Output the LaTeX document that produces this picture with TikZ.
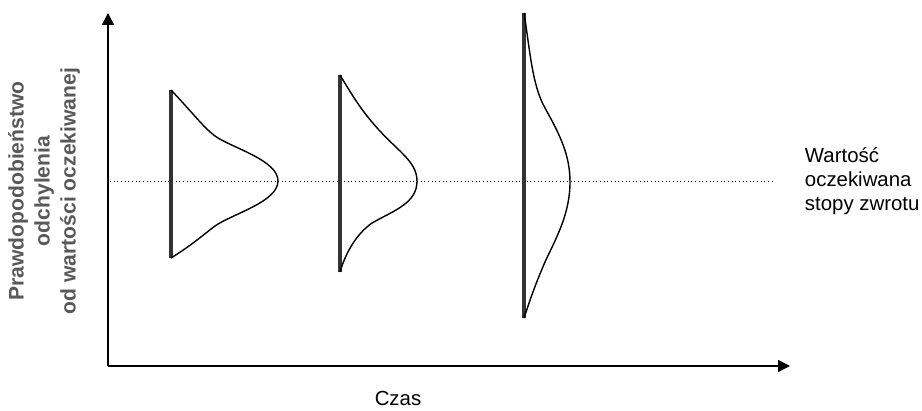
\documentclass[tikz,border=0pt]{standalone}
\usepackage{fontspec}
\setmainfont{Liberation Sans}
\usetikzlibrary{arrows,arrows.meta,calc}

\begin{document}
\begin{tikzpicture}[x=0.025cm,y=-0.025cm,
  axis/.style={line width=1.1pt,-{Triangle[length=8.5pt,width=8.5pt]}},
  bar/.style={line width=2.8pt,color=black!80},
  bell/.style={line width=1pt},
  mean/.style={line width=0.6pt,dotted},
  lab/.style={font=\fontsize{14.5}{16.8}\selectfont,align=left}]
\useasboundingbox (0,0) rectangle (922,410);
\coordinate[] (O) at (108,366);
\coordinate[] (Y) at (108,13);
\coordinate[] (X) at (790,366);
\coordinate[] (M0) at (110,181);
\coordinate[] (M1) at (772,181);
\coordinate[] (A1) at (171,90);
\coordinate[] (B1) at (215,136);
\coordinate[] (C1) at (278,181);
\coordinate[] (D1) at (215,226);
\coordinate[] (E1) at (171,258);
\coordinate[] (A2) at (340,75);
\coordinate[] (B2) at (372,122);
\coordinate[] (C2) at (417,181);
\coordinate[] (D2) at (372,223);
\coordinate[] (E2) at (340,272);
\coordinate[] (A3) at (524,13);
\coordinate[] (B3) at (545,108);
\coordinate[] (C3) at (570,182);
\coordinate[] (D3) at (545,262);
\coordinate[] (E3) at (524,318);

\draw [mean] (M0) -- (M1);
\draw [axis] (O) -- (Y);
\draw [axis] (O) -- (X);

\draw [bar] (A1) -- (E1);
\draw [bar] (A2) -- (E2);
\draw [bar] (A3) -- (E3);

\draw [bell] (A1) .. controls (192,112) and (203,127) .. (B1)
  .. controls (232,148) and (278,160) .. (C1)
  .. controls (278,202) and (232,214) .. (D1)
  .. controls (203,235) and (192,245) .. (E1);
\draw [bell] (A2) .. controls (352,95) and (360,108) .. (B2)
  .. controls (395,150) and (417,160) .. (C2)
  .. controls (417,203) and (395,210) .. (D2)
  .. controls (355,235) and (345,255) .. (E2);
\draw [bell] (A3) .. controls (530,50) and (532,85) .. (B3)
  .. controls (560,135) and (570,155) .. (C3)
  .. controls (570,215) and (555,240) .. (D3)
  .. controls (535,285) and (530,300) .. (E3);

\node[lab,anchor=west] (wart) at (800,181) {Wartość\\oczekiwana\\stopy zwrotu};
\node[lab] (czas) at (398,398) {Czas};
\node[font=\fontsize{15}{18.5}\selectfont\bfseries,text=black!65,rotate=90,align=center] (prawd) at (44,191)
  {Prawdopodobieństwo\\odchylenia\\od wartości oczekiwanej};
\end{tikzpicture}
\end{document}
